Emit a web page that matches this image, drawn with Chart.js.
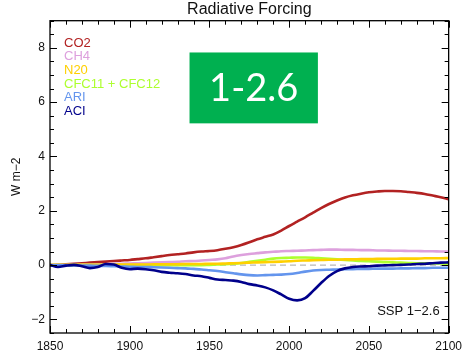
<!DOCTYPE html>
<html><head><meta charset="utf-8">
<script src="https://cdn.jsdelivr.net/npm/chart.js@4/dist/chart.umd.min.js"></script>
<style>html,body{margin:0;padding:0;background:#fff}#wrap{width:468px;height:352px}</style>
</head><body><div id="wrap"><canvas id="c" width="468" height="352"></canvas></div>
<script>
const years = [1850,1855,1860,1865,1870,1875,1880,1885,1890,1895,1900,1905,1910,1915,1920,1925,1930,1935,1940,1945,1950,1955,1960,1965,1970,1975,1980,1985,1990,1995,2000,2005,2010,2015,2020,2025,2030,2035,2040,2045,2050,2055,2060,2065,2070,2075,2080,2085,2090,2095,2100];
const co2 = [0.00,0.01,0.03,0.05,0.07,0.09,0.11,0.13,0.15,0.17,0.19,0.22,0.25,0.29,0.33,0.37,0.40,0.43,0.47,0.50,0.52,0.55,0.60,0.66,0.74,0.84,0.95,1.04,1.13,1.27,1.44,1.60,1.76,1.93,2.10,2.25,2.38,2.49,2.57,2.63,2.68,2.71,2.73,2.73,2.72,2.69,2.66,2.62,2.56,2.50,2.43];
const ch4 = [0.00,0.00,0.01,0.01,0.02,0.02,0.03,0.03,0.04,0.05,0.06,0.07,0.08,0.09,0.10,0.11,0.12,0.14,0.15,0.17,0.19,0.21,0.25,0.32,0.37,0.41,0.44,0.47,0.49,0.51,0.52,0.53,0.54,0.55,0.56,0.57,0.57,0.56,0.56,0.55,0.55,0.54,0.54,0.53,0.53,0.52,0.52,0.51,0.51,0.50,0.50];
const n2o = [0.00,0.00,0.00,0.01,0.01,0.01,0.01,0.01,0.02,0.02,0.02,0.02,0.02,0.03,0.03,0.03,0.03,0.04,0.04,0.04,0.05,0.05,0.06,0.07,0.08,0.09,0.10,0.11,0.12,0.13,0.14,0.16,0.17,0.18,0.19,0.20,0.20,0.21,0.21,0.22,0.22,0.23,0.23,0.23,0.24,0.24,0.24,0.25,0.25,0.25,0.26];
const cfc = [0,0,0,0,0,0,0,0,0,0,0,0,0,0,0,0,0,0,0,0,0.01,0.02,0.03,0.05,0.08,0.12,0.16,0.20,0.24,0.26,0.27,0.28,0.28,0.27,0.25,0.23,0.21,0.19,0.17,0.15,0.14,0.13,0.11,0.10,0.09,0.08,0.07,0.07,0.06,0.06,0.05];
const ari = [0.00,-0.01,-0.01,-0.01,-0.02,-0.02,-0.03,-0.03,-0.04,-0.05,-0.06,-0.07,-0.07,-0.08,-0.09,-0.10,-0.11,-0.12,-0.14,-0.16,-0.19,-0.22,-0.26,-0.30,-0.34,-0.37,-0.38,-0.37,-0.36,-0.35,-0.33,-0.29,-0.24,-0.20,-0.18,-0.17,-0.16,-0.15,-0.15,-0.14,-0.14,-0.13,-0.13,-0.13,-0.12,-0.12,-0.11,-0.11,-0.10,-0.10,-0.10];
const aci = [0.00,-0.07,-0.02,0.01,-0.04,-0.11,-0.07,0.04,0.02,-0.10,-0.15,-0.13,-0.15,-0.19,-0.25,-0.28,-0.30,-0.33,-0.38,-0.41,-0.47,-0.53,-0.55,-0.57,-0.62,-0.70,-0.75,-0.82,-0.93,-1.08,-1.24,-1.30,-1.22,-0.95,-0.66,-0.40,-0.22,-0.12,-0.07,-0.05,-0.04,-0.02,-0.01,0.00,0.01,0.02,0.04,0.05,0.07,0.09,0.10];
const seriesLabels = ['CO2','CH4','N20','CFC11 + CFC12','ARI','ACI'];
const xTickValues = [1850,1900,1950,2000,2050,2100];
const yTickValues = [-2,0,2,4,6,8];

const colors = ['#B22222','#DDA0DD','#FFD000','#ADFF2F','#6495ED','#00008B'];
const orders = [5,4,2,3,1,0];
const seriesValues = [co2,ch4,n2o,cfc,ari,aci];

Chart.defaults.font.family = "'Liberation Sans', Arial, Helvetica, sans-serif";
Chart.defaults.color = '#111';

const datasets = seriesValues.map((vals,i)=>({
  label: seriesLabels[i],
  data: years.map((y,j)=>({x:y,y:vals[j]})),
  borderColor: colors[i],
  backgroundColor: colors[i],
  borderWidth: 2.6,
  pointRadius: 0,
  cubicInterpolationMode: 'monotone',
  order: orders[i],
  fill: false
}));

const decor = {
  id: 'decor',
  beforeDatasetsDraw(chart){
    const {ctx, chartArea:a, scales:{y}} = chart;
    const y0 = y.getPixelForValue(0);
    ctx.save();
    ctx.strokeStyle = '#b8b8b8';
    ctx.lineWidth = 1.2;
    ctx.setLineDash([6,4]);
    ctx.beginPath(); ctx.moveTo(a.left, y0); ctx.lineTo(a.right, y0); ctx.stroke();
    ctx.restore();
  },
  afterDatasetsDraw(chart){
    const {ctx, chartArea:a, scales:{x,y}} = chart;
    ctx.save();
    ctx.strokeStyle = '#000';
    ctx.lineWidth = 1.3;
    ctx.strokeRect(a.left, a.top, a.right-a.left, a.bottom-a.top);
    ctx.lineWidth = 1;
    ctx.beginPath();
    for (let v = x.min; v <= x.max + 0.001; v += 10) {
      const px = Math.round(x.getPixelForValue(v)) + 0.5;
      const L = (v % 50 === 0) ? 7 : 4;
      ctx.moveTo(px, a.bottom); ctx.lineTo(px, a.bottom - L);
      ctx.moveTo(px, a.top); ctx.lineTo(px, a.top + L);
    }
    for (let v = -2.5; v <= y.max + 0.001; v += 0.5) {
      const py = Math.round(y.getPixelForValue(v)) + 0.5;
      const L = (Math.abs(v % 2) < 1e-6) ? 7 : 4;
      ctx.moveTo(a.left, py); ctx.lineTo(a.left + L, py);
      ctx.moveTo(a.right, py); ctx.lineTo(a.right - L, py);
    }
    ctx.stroke();
    ctx.restore();
  },
  afterDraw(chart){
    const {ctx, chartArea:a, scales:{x,y}} = chart;
    ctx.save();
    // legend text
    ctx.font = "13px 'Liberation Sans', Arial, sans-serif";
    ctx.textBaseline = 'middle';
    ctx.textAlign = 'left';
    chart.data.datasets.forEach((ds,i)=>{
      ctx.fillStyle = ds.borderColor;
      ctx.fillText(ds.label, a.left + 14, a.top + 22.5 + i*13.6);
    });
    // scenario badge
    const bx1 = x.getPixelForValue(1937.5), bx2 = x.getPixelForValue(2018);
    const by1 = y.getPixelForValue(7.83), by2 = y.getPixelForValue(5.22);
    ctx.fillStyle = '#00B050';
    ctx.fillRect(bx1, by1, bx2-bx1, by2-by1);
    ctx.fillStyle = '#fff';
    ctx.font = "38px Lato, 'Open Sans', sans-serif";
    ctx.textAlign = 'center';
    ctx.textBaseline = 'middle';
    ctx.fillText('1-2.6', (bx1+bx2)/2, (by1+by2)/2 + 1);
    // SSP label
    ctx.fillStyle = '#111';
    ctx.font = "13px 'Liberation Sans', Arial, sans-serif";
    ctx.textAlign = 'right';
    ctx.fillText('SSP 1\u22122.6', a.right - 9, a.bottom - 21.5);
    ctx.restore();
  }
};

new Chart(document.getElementById('c'), {
  type: 'line',
  data: { datasets },
  options: {
    responsive: false,
    animation: false,
    layout: { padding: { left: 0, right: 17, top: 0, bottom: 0 } },
    plugins: {
      legend: { display: false },
      tooltip: { enabled: false },
      title: {
        display: true, text: 'Radiative Forcing', fullSize: false,
        font: { size: 16, weight: 'normal', lineHeight: 1.2 },
        padding: { top: 0, bottom: 1.5 }, color: '#111'
      }
    },
    scales: {
      x: {
        type: 'linear', min: 1850, max: 2100,
        afterBuildTicks: s => { s.ticks = xTickValues.map(v => ({ value: v })); },
        grid: { display: false, drawTicks: false },
        border: { display: false },
        ticks: { font: { size: 12 }, color: '#111', padding: 6, maxRotation: 0, autoSkip: false, callback: v => String(v) },
        afterFit: s => { s.height = 19; }
      },
      y: {
        type: 'linear', min: -2.5, max: 9,
        afterBuildTicks: s => { s.ticks = yTickValues.map(v => ({ value: v })); },
        grid: { display: false, drawTicks: false },
        border: { display: false },
        ticks: { font: { size: 12 }, color: '#111', padding: 5, callback: v => (v < 0 ? '\u2212' + Math.abs(v) : String(v)) },
        title: { display: true, text: 'W m\u22122', font: { size: 12 }, color: '#111', padding: { top: 9, bottom: 0 } },
        afterFit: s => { s.width = 50; }
      }
    }
  },
  plugins: [decor]
});
</script></body></html>
